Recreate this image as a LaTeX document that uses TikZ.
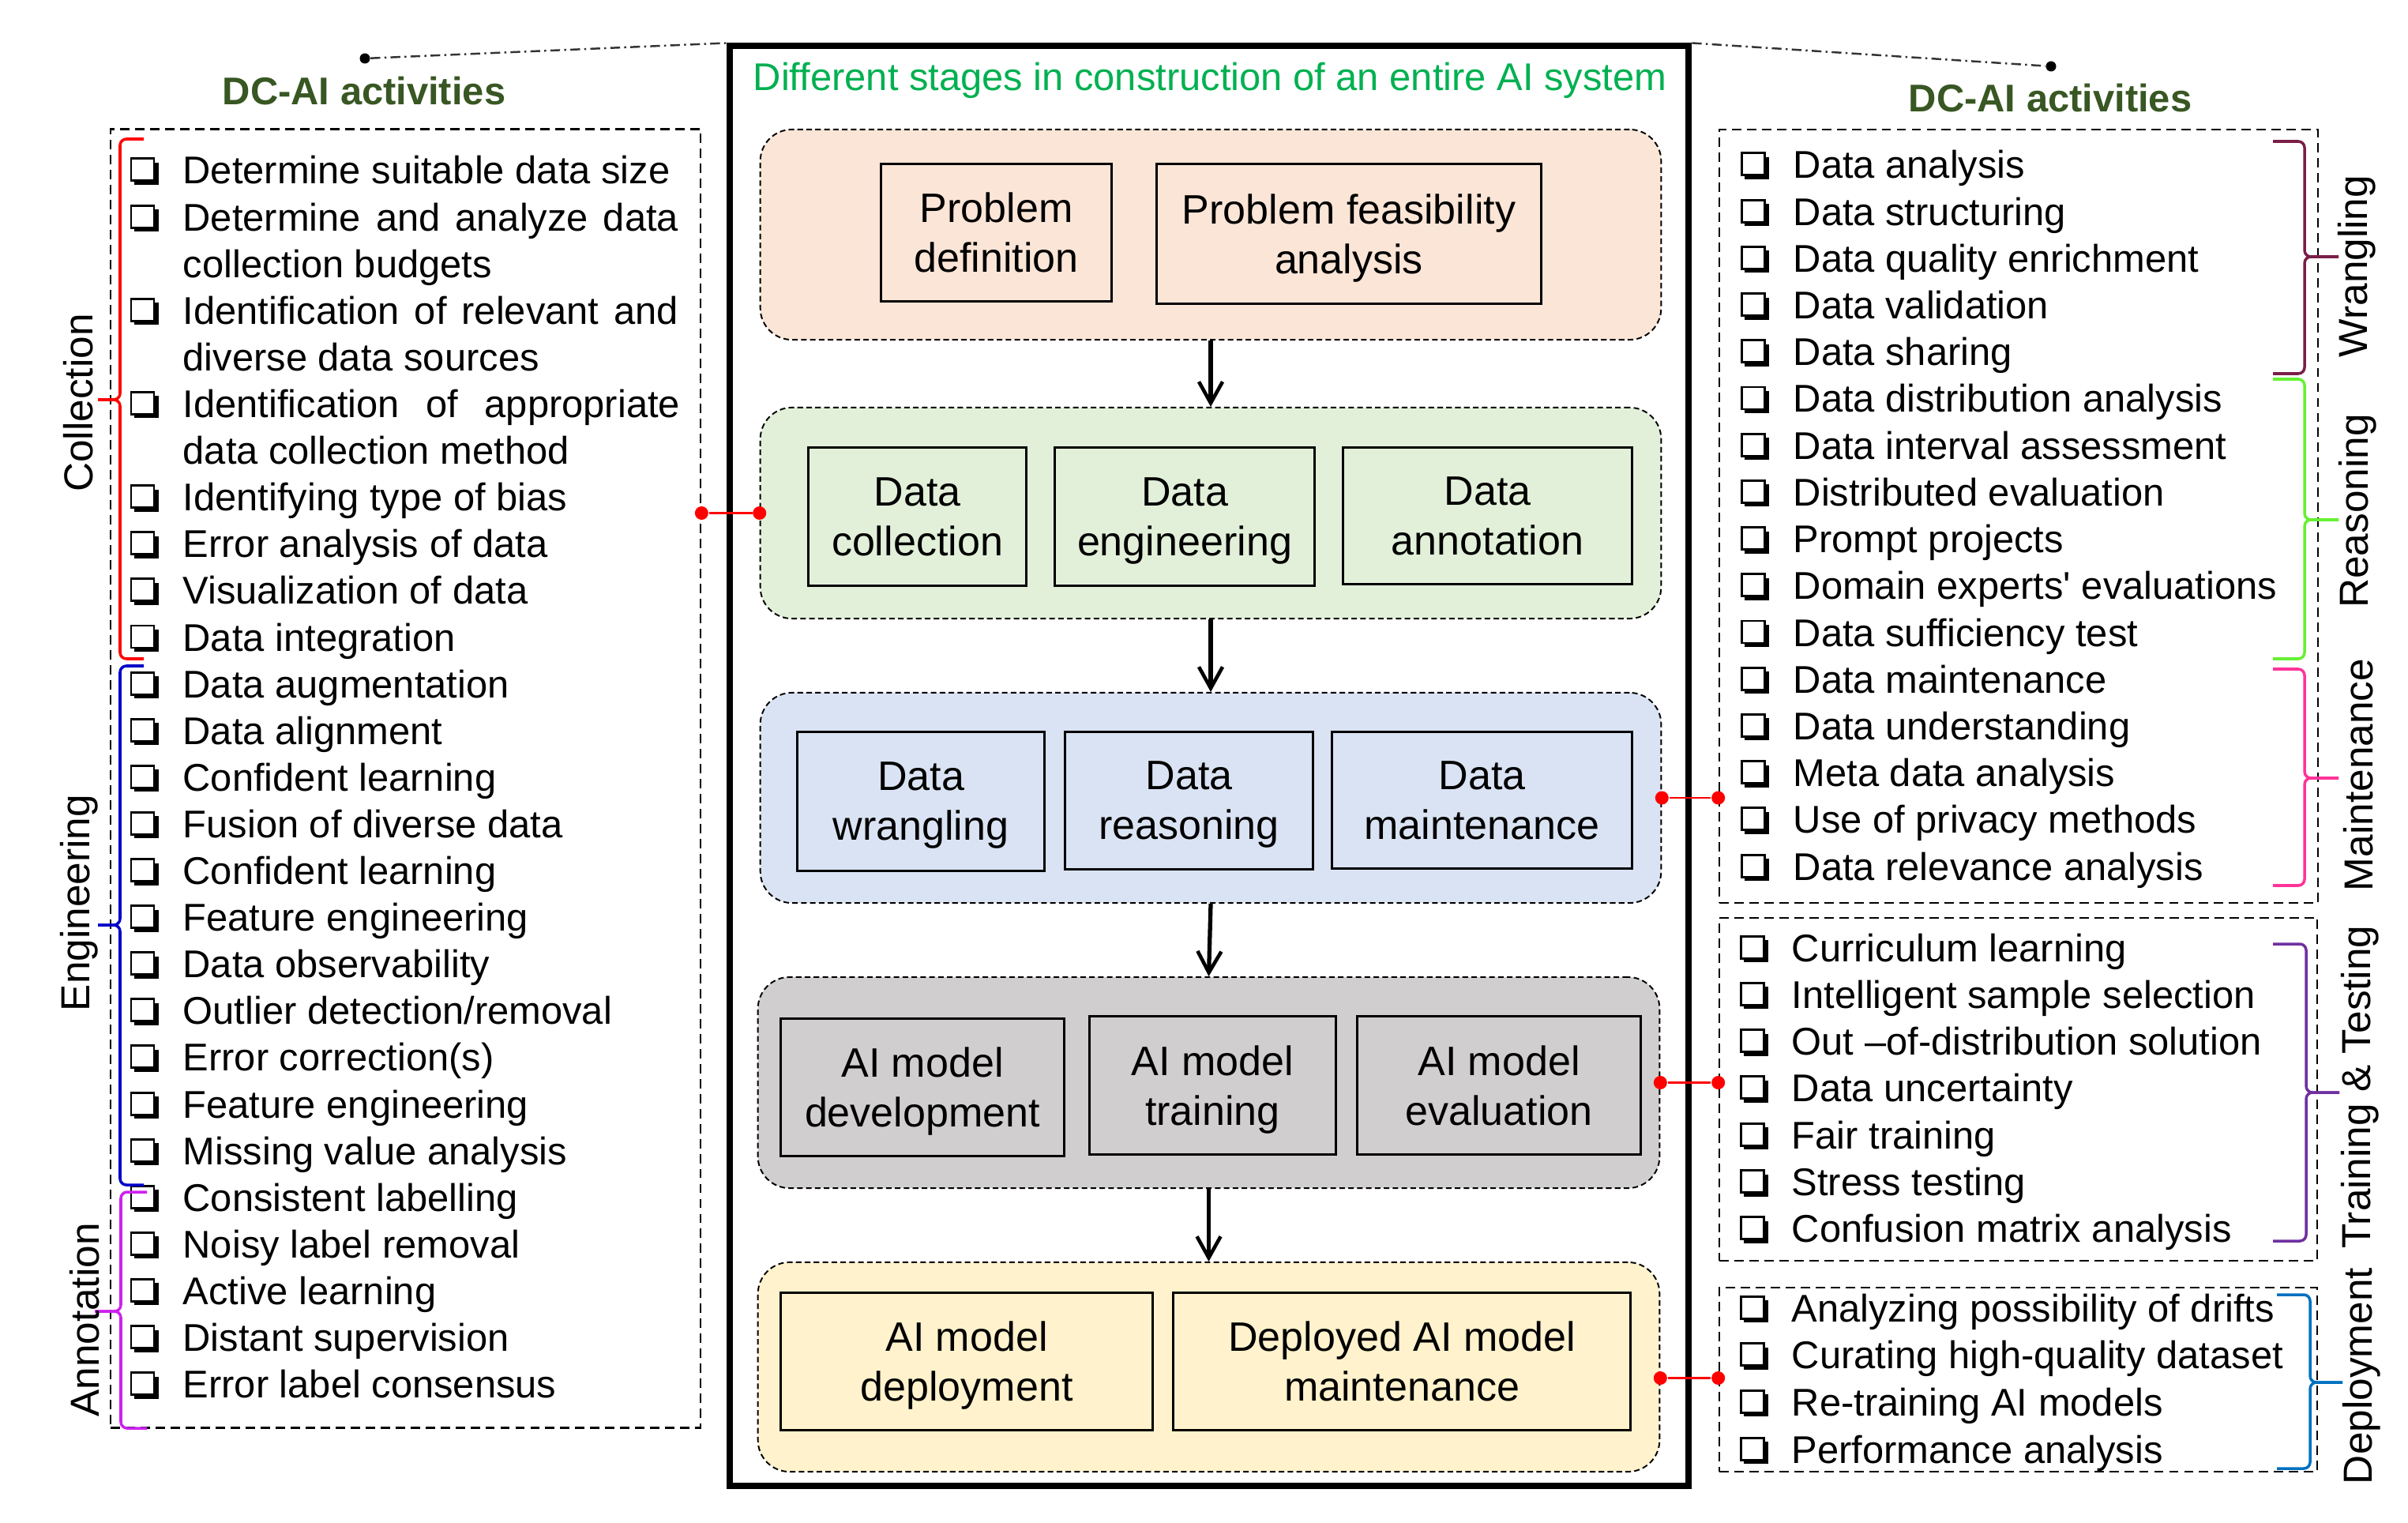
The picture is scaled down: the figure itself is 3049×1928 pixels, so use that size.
\documentclass[tikz,border=0pt]{standalone}
\usepackage{fontspec}
\newfontfamily\lsans{Liberation Sans}
\usetikzlibrary{arrows.meta,calc}
\definecolor{peach}{HTML}{FBE5D6}
\definecolor{lgreen}{HTML}{E2F0D9}
\definecolor{lblue}{HTML}{DAE3F3}
\definecolor{lgray}{HTML}{D0CECE}
\definecolor{lyellow}{HTML}{FFF2CC}
\definecolor{titlegreen}{HTML}{00B050}
\definecolor{dcgreen}{HTML}{385723}
\definecolor{brred}{HTML}{FF0000}
\definecolor{brblue}{HTML}{0000C8}
\definecolor{brmag}{HTML}{CC22EE}
\definecolor{brmaroon}{HTML}{7A1E48}
\definecolor{brlime}{HTML}{66F033}
\definecolor{brpink}{HTML}{FF3399}
\definecolor{brpurple}{HTML}{7030A0}
\definecolor{brdblue}{HTML}{0070C0}
\newcommand\drawbrace[7]{%
  \draw[brc,#1] (#2,#5) -- (#3,#5) -- (#3,#6) -- (#4,#6);
  \draw[brc,#1] (#2,#7) -- (#3,#7) -- (#3,#6) -- (#4,#6);}
\begin{document}
\begin{tikzpicture}[x=0.01cm,y=-0.01cm,
  every node/.style={font=\lsans},
  item/.style={font=\lsans\fontsize{13.9}{16}\selectfont, anchor=base west, inner sep=0pt},
  chk/.pic={\draw[line width=0.85pt] (1,-32) rectangle (30,-4);
            \fill (5,-5) rectangle (36,1);
            \fill (30,-27) rectangle (36,1);},
  stage/.style={draw, line width=0.55pt, dash pattern=on 2pt off 1.2pt, rounded corners=0.4cm},
  ibox/.style={draw, line width=0.85pt, align=center, inner sep=0pt, font=\lsans\fontsize{14.8}{17.9}\selectfont},
  lbox/.style={draw, line width=0.65pt, dash pattern=on 3.4pt off 2pt},
  arr/.style={line width=1.5pt, -{Straight Barb[length=0.27cm,width=0.3cm,line width=1.3pt]}},
  redc/.style={brred, line width=0.8pt},
  rdot/.style={circle, fill=brred, inner sep=0pt, minimum size=0.17cm},
  bdot/.style={circle, fill=black, inner sep=0pt, minimum size=0.13cm},
  dd/.style={line width=0.7pt, black!80, dash pattern=on 3.5pt off 1.5pt on 0.7pt off 1.5pt},
  glab/.style={font=\lsans\fontsize{14.6}{17}\selectfont, rotate=90, inner sep=0pt},
  dctitle/.style={font=\lsans\bfseries\fontsize{13.9}{16}\selectfont, text=dcgreen, anchor=base, inner sep=0pt},
  brc/.style={line width=1pt, rounded corners=0.08cm},
]
\useasboundingbox (0,0) rectangle (3049,1928);

% main frame
\node[draw, line width=0.08cm, minimum width=12.14cm, minimum height=18.21cm, inner sep=0pt] (main) at (1531,969.5) {};
\node[font=\lsans\fontsize{13.9}{16}\selectfont, text=titlegreen, anchor=base, inner sep=0pt] (title) at (1532,115) {Different stages in construction of an entire AI system};

% stages
\node[stage, fill=peach,   minimum width=11.40cm, minimum height=2.66cm] (s1) at (1533,297) {};
\node[stage, fill=lgreen,  minimum width=11.40cm, minimum height=2.67cm] (s2) at (1533,649.5) {};
\node[stage, fill=lblue,   minimum width=11.40cm, minimum height=2.66cm] (s3) at (1533,1010) {};
\node[stage, fill=lgray,   minimum width=11.41cm, minimum height=2.67cm] (s4) at (1530.5,1370.5) {};
\node[stage, fill=lyellow, minimum width=11.41cm, minimum height=2.65cm] (s5) at (1530.5,1730.5) {};

% inner boxes
\node[ibox, minimum width=2.91cm, minimum height=1.73cm] (p1) at (1261.5,294.5) {Problem\\definition};
\node[ibox, minimum width=4.86cm, minimum height=1.76cm] (p2) at (1708,296) {Problem feasibility\\\smash{analysis}};
\node[ibox, minimum width=2.75cm, minimum height=1.74cm] (dc) at (1161.5,654) {Data\\collection};
\node[ibox, minimum width=3.28cm, minimum height=1.74cm] (de) at (1500,654) {Data\\\smash{engineering}};
\node[ibox, minimum width=3.65cm, minimum height=1.72cm] (da) at (1883.5,653) {Data\\annotation};
\node[ibox, minimum width=3.12cm, minimum height=1.75cm] (dw) at (1166,1014.5) {Data\\\smash{wrangling}};
\node[ibox, minimum width=3.13cm, minimum height=1.73cm] (dr) at (1505.5,1013.5) {Data\\\smash{reasoning}};
\node[ibox, minimum width=3.79cm, minimum height=1.72cm] (dm) at (1876.5,1013) {Data\\maintenance};
\node[ibox, minimum width=3.58cm, minimum height=1.73cm] (m1) at (1168,1376.5) {AI model\\\smash{development}};
\node[ibox, minimum width=3.11cm, minimum height=1.74cm] (m2) at (1535.5,1374) {AI model\\\smash{training}};
\node[ibox, minimum width=3.58cm, minimum height=1.74cm] (m3) at (1898,1374) {AI model\\evaluation};
\node[ibox, minimum width=4.70cm, minimum height=1.73cm] (d1) at (1224,1723.5) {AI model\\\smash{deployment}};
\node[ibox, minimum width=5.78cm, minimum height=1.73cm] (d2) at (1775,1723.5) {Deployed AI model\\maintenance};

% arrows between stages
\draw[arr] (s1.south) -- (s2.north);
\draw[arr] (s2.south) -- (s3.north);
\draw[arr] (s3.south) -- (s4.north);
\draw[arr] (s4.south) -- (s5.north);

% side boxes
\node[lbox, minimum width=7.47cm, minimum height=16.43cm] (L) at (513.5,985.5) {};
\node[lbox, minimum width=7.58cm, minimum height=9.79cm] (R1) at (2556,653.5) {};
\node[lbox, minimum width=7.57cm, minimum height=4.34cm] (R2) at (2555.5,1379) {};
\node[lbox, minimum width=7.57cm, minimum height=2.33cm] (R3) at (2555.5,1746.5) {};

% titles
\node[dctitle] (tl) at (461,133) {DC-AI activities};
\node[dctitle] (tr) at (2596,142) {DC-AI activities};

% dash-dot leaders
\node[bdot] (ldot) at (462,74) {};
\node[bdot] (rdotb) at (2597,84) {};
\draw[dd] (ldot) -- (main.north west);
\draw[dd] (main.north east) -- (rdotb);

% red connectors
\node[rdot] (a1) at (s2.west) {};
\node[rdot] (a2) at (s2.west -| L.east) {};
\draw[redc] (a2) -- (a1);
\node[rdot] (b1) at (s3.east) {};
\node[rdot] (b2) at (s3.east -| R1.west) {};
\draw[redc] (b1) -- (b2);
\node[rdot] (c1) at (s4.east) {};
\node[rdot] (c2) at (s4.east -| R2.west) {};
\draw[redc] (c1) -- (c2);
\coordinate (e0) at ($(s5.east)+(0,14)$);
\node[rdot] (e1) at (e0) {};
\node[rdot] (e2) at (e0 -| R3.west) {};
\draw[redc] (e1) -- (e2);

% left list
\foreach \t [count=\k from 0] in {Determine suitable data size,
  \makebox[6.27cm][s]{Determine and analyze data},
  collection budgets,
  \makebox[6.27cm][s]{Identification of relevant and},
  diverse data sources,
  \makebox[6.29cm][s]{Identification of appropriate},
  data collection method,
  Identifying type of bias, Error analysis of data, Visualization of data,
  Data integration, Data augmentation, Data alignment, Confident learning,
  Fusion of diverse data, Confident learning, Feature engineering,
  Data observability, Outlier detection/removal, Error correction(s),
  Feature engineering, Missing value analysis, Consistent labelling,
  Noisy label removal, Active learning, Distant supervision,
  Error label consensus}
  \node[item] (L\k) at (231,{233+59.1*\k}) {\t};
\foreach \k in {0,1,3,5,7,8,9,10,11,12,13,14,15,16,17,18,19,20,21,22,23,24,25,26}
  \pic at (165,{233+59.1*\k}) {chk};

% right list 1
\foreach \t [count=\k from 0] in {Data analysis, Data structuring, Data quality enrichment,
  Data validation, Data sharing, Data distribution analysis, Data interval assessment,
  Distributed evaluation, Prompt projects, Domain experts' evaluations,
  Data sufficiency test, Data maintenance, Data understanding, Meta data analysis,
  Use of privacy methods, Data relevance analysis}
  {\node[item] (RA\k) at (2270,{226+59.2*\k}) {\t};
   \pic at (2204,{226+59.2*\k}) {chk};}
% right list 2
\foreach \t [count=\k from 0] in {Curriculum learning, Intelligent sample selection,
  Out –of-distribution solution, Data uncertainty, Fair training, Stress testing,
  Confusion matrix analysis}
  {\node[item] (RB\k) at (2268,{1217+59.3*\k}) {\t};
   \pic at (2203,{1217+59.3*\k}) {chk};}
% right list 3
\foreach \t [count=\k from 0] in {Analyzing possibility of drifts, Curating high-quality dataset,
  Re-training AI models, Performance analysis}
  {\node[item] (RC\k) at (2268,{1673+59.7*\k}) {\t};
   \pic at (2203,{1673+59.7*\k}) {chk};}

% braces left
\drawbrace{brred}{182}{152}{124}{176}{506}{834}
\drawbrace{brblue}{182}{152}{124}{843}{1171}{1500}
\drawbrace{brmag}{186}{153}{120}{1509}{1660}{1808}
% braces right
\drawbrace{brmaroon}{2878}{2918}{2961}{179}{325}{473}
\drawbrace{brlime}{2878}{2918}{2961}{480}{658}{834}
\drawbrace{brpink}{2878}{2918}{2961}{847}{985}{1121}
\drawbrace{brpurple}{2878}{2920}{2962}{1195}{1383}{1571}
\drawbrace{brdblue}{2883}{2925}{2966}{1639}{1750}{1859}

% group labels
\node[glab] (gcol) at (99,510) {Collection};
\node[glab] (geng) at (100,1143) {Engineering};
\node[glab] (gann) at (107,1671) {Annotation};
\node[glab] (gwr) at (2984,337) {Wrangling};
\node[glab] (grs) at (2985,647) {Reasoning};
\node[glab] (gmt) at (2986,981) {Maintenance};
\node[glab] (gtt) at (2988,1376) {Training \& Testing};
\node[glab] (gdp) at (2990,1742) {Deployment};
\end{tikzpicture}
\end{document}
